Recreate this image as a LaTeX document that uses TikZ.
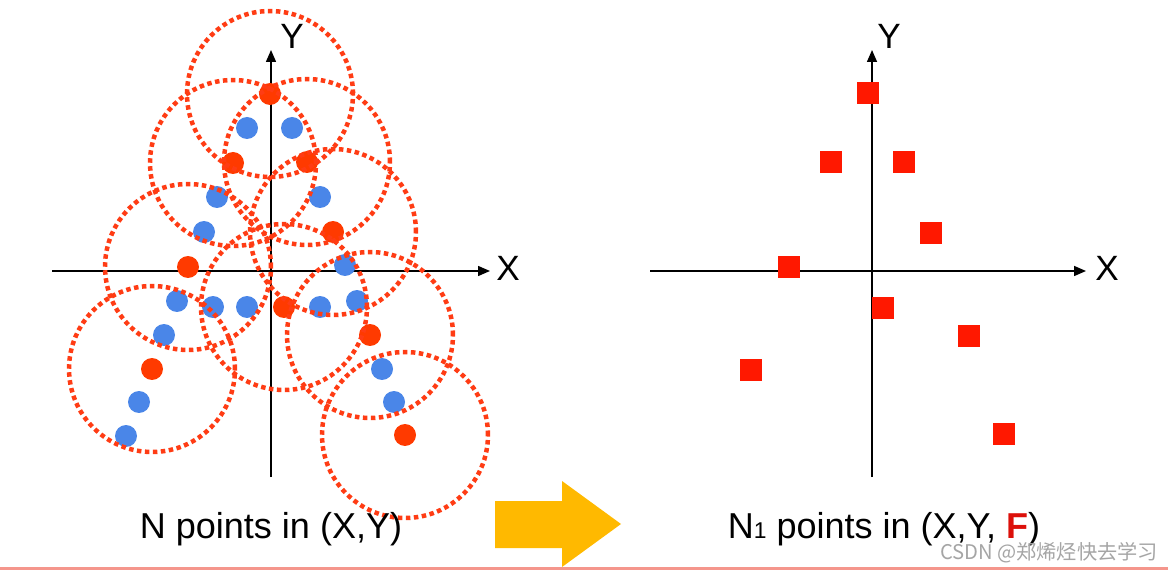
\documentclass[tikz,border=0pt]{standalone}
\usepackage{fontspec}
\setmainfont{Liberation Sans}
\newfontfamily\cjkfont{Noto Sans CJK SC}
\usetikzlibrary{arrows.meta}
\definecolor{dotred}{RGB}{255,58,0}
\definecolor{ringred}{RGB}{255,60,20}
\definecolor{dotblue}{RGB}{74,134,232}
\definecolor{sqred}{RGB}{255,24,0}
\definecolor{arrowyellow}{RGB}{255,185,0}
\definecolor{fred}{RGB}{220,16,10}
\definecolor{wmgray}{RGB}{165,165,165}
\definecolor{pinkline}{RGB}{245,150,140}
\tikzset{
  reddot/.style={circle, fill=dotred, draw=none, minimum size=0.44cm, inner sep=0pt},
  bluedot/.style={circle, fill=dotblue, draw=none, minimum size=0.44cm, inner sep=0pt},
  ring/.style={draw=ringred, line width=0.09cm, dash pattern=on 0.09cm off 0.07cm},
  sq/.style={rectangle, fill=sqred, draw=none, minimum width=0.44cm, minimum height=0.45cm, inner sep=0pt},
  axis/.style={draw=black, line width=0.03cm, -{Triangle[length=0.24cm,width=0.2cm]}},
  axlabel/.style={font=\fontsize{20}{24}\selectfont, inner sep=0pt},
  caption/.style={font=\fontsize{20.5}{24}\selectfont, inner sep=0pt, anchor=base},
}
\begin{document}
\begin{tikzpicture}[x=0.02cm,y=-0.02cm]
\useasboundingbox (0,0) rectangle (1168,570);
% ---------- left panel ----------
\coordinate (lxs) at (52,271);
\coordinate (lxe) at (490,271);
\coordinate (lys) at (271,477);
\coordinate (lye) at (271,50);
\draw[axis] (lxs) -- (lxe);
\draw[axis] (lys) -- (lye);
\node[axlabel] (lX) at (508,268) {X};
\node[axlabel] (lY) at (292,36) {Y};
% red centroid dots
\node[reddot] (r1) at (270,94) {};
\node[reddot] (r2) at (233,163) {};
\node[reddot] (r3) at (307,162) {};
\node[reddot] (r4) at (333,232) {};
\node[reddot] (r5) at (188,267) {};
\node[reddot] (r6) at (284,307) {};
\node[reddot] (r7) at (370,335) {};
\node[reddot] (r8) at (152,369) {};
\node[reddot] (r9) at (405,435) {};
% blue dots
\node[bluedot] (b1) at (247,128) {};
\node[bluedot] (b2) at (292,128) {};
\node[bluedot] (b3) at (320,197) {};
\node[bluedot] (b4) at (217,197) {};
\node[bluedot] (b5) at (204,232) {};
\node[bluedot] (b6) at (345,265) {};
\node[bluedot] (b7) at (177,301) {};
\node[bluedot] (b8) at (213,307) {};
\node[bluedot] (b9) at (247,307) {};
\node[bluedot] (b10) at (320,307) {};
\node[bluedot] (b11) at (357,301) {};
\node[bluedot] (b12) at (164,335) {};
\node[bluedot] (b13) at (382,369) {};
\node[bluedot] (b14) at (394,402) {};
\node[bluedot] (b15) at (139,402) {};
\node[bluedot] (b16) at (126,436) {};
% dotted circles
\foreach \c in {r1,r2,r3,r4,r5,r6,r7,r8,r9}
  \draw[ring] (\c.center) circle[radius=1.66cm];
% ---------- arrow ----------
\fill[arrowyellow] (495,501) -- (562,501) -- (562,481) -- (621,524) -- (562,567) -- (562,548) -- (495,548) -- cycle;
% ---------- right panel ----------
\coordinate (rxs) at (650,271);
\coordinate (rxe) at (1086,271);
\coordinate (rys) at (872,477);
\coordinate (rye) at (872,50);
\draw[axis] (rxs) -- (rxe);
\draw[axis] (rys) -- (rye);
\node[axlabel] (rX) at (1107,268) {X};
\node[axlabel] (rY) at (889,36) {Y};
\node[sq] (s1) at (868,93) {};
\node[sq] (s2) at (831,162) {};
\node[sq] (s3) at (904,162) {};
\node[sq] (s4) at (931,233) {};
\node[sq] (s5) at (789,267) {};
\node[sq] (s6) at (883,308) {};
\node[sq] (s7) at (969,336) {};
\node[sq] (s8) at (751,370) {};
\node[sq] (s9) at (1004,434) {};
% ---------- captions ----------
\node[caption] (capL) at (271,538) {N points in (X,Y)};
\node[caption] (capR) at (884,538) {N{\fontsize{13}{15}\selectfont 1} points in (X,Y, {\bfseries\color{fred}F})};
\node[font=\cjkfont\fontsize{11.5}{13}\selectfont, text=wmgray, inner sep=0pt] (wm) at (1049,553) {CSDN @郑烯烃快去学习};
\coordinate (pl) at (0,568.5);
\coordinate (pr) at (1168,568.5);
\draw[pinkline, line width=0.06cm] (pl) -- (pr);
\end{tikzpicture}
\end{document}
